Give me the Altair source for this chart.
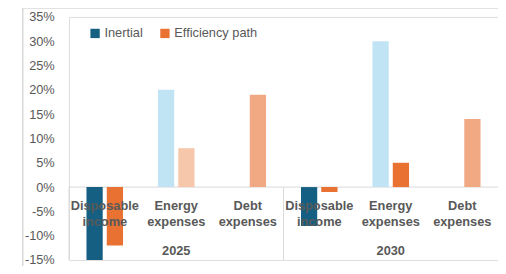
import altair as alt
import pandas as pd

years = ["2025", "2025", "2025", "2030", "2030", "2030"]
categories = ["Disposable\nincome", "Energy\nexpenses", "Debt\nexpenses",
              "Disposable\nincome", "Energy\nexpenses", "Debt\nexpenses"]
series = ["Inertial", "Efficiency path"]
inertial = [-15, 20, None, -8, 30, None]
efficiency = [-12, 8, 19, -1, 5, 14]
inertial_colors = ["#156082", "#C1E4F5", "#C1E4F5", "#156082", "#C1E4F5", "#C1E4F5"]
efficiency_colors = ["#E97132", "#F7C7AC", "#F1A983", "#E97132", "#E97132", "#F1A983"]
series_colors = ["#156082", "#E97132"]
y_ticks = [-15, -10, -5, 0, 5, 10, 15, 20, 25, 30, 35]

keys = [f"{y} {c}" for y, c in zip(years, categories)]

rows = []
for i, k in enumerate(keys):
    if inertial[i] is not None:
        rows.append({"key": k, "series": series[0], "value": inertial[i], "col": inertial_colors[i]})
    if efficiency[i] is not None:
        rows.append({"key": k, "series": series[1], "value": efficiency[i], "col": efficiency_colors[i]})
bars_df = pd.DataFrame(rows)
cat_df = pd.DataFrame({"key": keys, "label": categories})
year_df = pd.DataFrame({"key": [keys[1], keys[4]], "label": ["2025", "2030"]})
sep_df = pd.DataFrame({"key": [keys[0], keys[3]]})

W, H = 436, 247
GRAY = "#595959"
LINE = "#D9D9D9"
FONT = "Liberation Sans"

x_scale = alt.Scale(domain=keys, paddingInner=0, paddingOuter=0)
y_scale = alt.Scale(domain=[-15, 35], nice=False, zero=False)
y_axis = alt.Axis(values=y_ticks, labelExpr="datum.value + '%'", domain=False,
                  ticks=False, grid=False, labelColor=GRAY, labelFontSize=13,
                  labelFont=FONT, labelPadding=15, labelOverlap=False, title=None)
X = alt.X("key:N", scale=x_scale, axis=None)

bars = alt.Chart(bars_df).mark_bar().encode(
    x=X,
    xOffset=alt.XOffset("series:N", sort=series,
                        scale=alt.Scale(domain=series, paddingInner=0.2, paddingOuter=0.86)),
    y=alt.Y("value:Q", scale=y_scale, title=None, axis=y_axis),
    color=alt.Color("col:N", scale=None),
)

legend_layer = alt.Chart(bars_df).transform_filter("false").mark_square(opacity=1).encode(
    x=X,
    y=alt.Y("value:Q", scale=y_scale, axis=y_axis),
    fill=alt.Fill("series:N", scale=alt.Scale(domain=series, range=series_colors),
                  legend=alt.Legend(title=None, orient="none", legendX=20, legendY=10,
                                    direction="horizontal", symbolType="square",
                                    symbolSize=90, symbolStrokeWidth=0, symbolOpacity=1,
                                    labelFontSize=13,
                                    labelFont=FONT, labelColor=GRAY, labelOffset=3,
                                    columnPadding=15, padding=0)),
)

zero = alt.Chart(pd.DataFrame({"v": [0]})).mark_rule(color=LINE, strokeWidth=1).encode(
    y=alt.datum(0, scale=y_scale, axis=y_axis))

seps = alt.Chart(sep_df).mark_rule(color=LINE, strokeWidth=1).encode(
    x=alt.X("key:N", scale=x_scale, axis=None, bandPosition=0),
    y=alt.datum(0, axis=y_axis),
    y2=alt.datum(-15),
)

cat_text = alt.Chart(cat_df).mark_text(
    lineBreak="\n", fontWeight="bold", fontSize=13, font=FONT, color=GRAY,
    baseline="top", dy=13, lineHeight=17).encode(
    x=alt.X("key:N", scale=x_scale, axis=None, bandPosition=0.5),
    y=alt.datum(0, axis=y_axis),
    text="label:N",
)

year_text = alt.Chart(year_df).mark_text(
    fontWeight="bold", fontSize=13, font=FONT, color=GRAY,
    baseline="alphabetic", dy=-5).encode(
    x=alt.X("key:N", scale=x_scale, axis=None, bandPosition=0.5),
    y=alt.datum(-15, axis=y_axis),
    text="label:N",
)

frame_top = alt.Chart(pd.DataFrame({"v": [0]})).mark_rule(color=LINE, strokeWidth=1.5).encode(
    x=alt.value(-47), x2=alt.value(W + 10), y=alt.value(-9))
frame_left = alt.Chart(pd.DataFrame({"v": [0]})).mark_rule(color=LINE, strokeWidth=1.5).encode(
    x=alt.value(-47), y=alt.value(-9), y2=alt.value(H + 20))
green = alt.Chart(pd.DataFrame({"v": [0]})).mark_rect(color="#DDF5E6").encode(
    x=alt.value(-70), x2=alt.value(-63), y=alt.value(-16), y2=alt.value(10))

chart = alt.layer(
    green, frame_top, frame_left, zero, seps, bars, legend_layer, cat_text, year_text
).properties(
    width=W, height=H,
    autosize=alt.AutoSizeParams(type="none"),
    padding={"left": 62, "top": 7, "right": 0, "bottom": 4},
).configure_view(stroke=None).configure_axis(labelOverlap=False).configure(background="white")

chart.save("out.html", embed_options={"renderer": "svg", "actions": False})
